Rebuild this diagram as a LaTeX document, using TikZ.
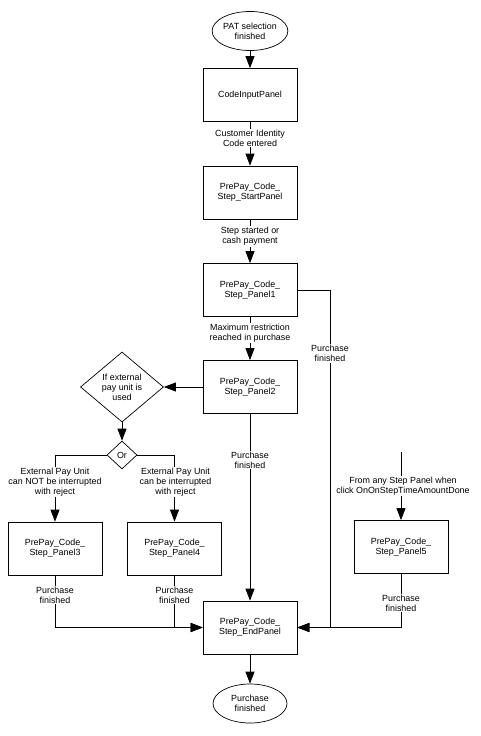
\documentclass[tikz,border=0pt]{standalone}
\usepackage{fontspec}
\setmainfont{Liberation Sans}
\usetikzlibrary{shapes.geometric,arrows.meta}
\begin{document}
\begin{tikzpicture}[x=1pt,y=-1pt,
  font=\fontsize{8.9}{10}\selectfont,
  box/.style={draw, rectangle, minimum width=94pt, minimum height=53pt, inner sep=0pt, align=center, line width=0.7pt},
  term/.style={draw, ellipse, minimum width=74pt, minimum height=39pt, inner sep=0pt, align=center, line width=0.7pt},
  decision/.style={draw, diamond, inner sep=0pt, line width=0.7pt},
  lbl/.style={fill=white, align=center, inner sep=1pt},
  conn/.style={line width=0.7pt},
  arr/.style={conn, -{Triangle[length=12pt,width=9pt]}}]
\useasboundingbox (0,0) rectangle (481,736);
% nodes
\node[term] (start) at (250,31) {PAT selection\\finished};
\node[box] (cip) at (250,95) {CodeInputPanel};
\node[box] (sp) at (250,192.5) {PrePay\_Code\_\\Step\_StartPanel};
\node[box] (p1) at (250,290) {PrePay\_Code\_\\Step\_Panel1};
\node[box] (p2) at (250,387) {PrePay\_Code\_\\Step\_Panel2};
\node[decision, minimum width=83pt, minimum height=70pt] (dia) at (122,387) {};
\node[align=center] (diat) at (dia) {If external\\pay unit is\\used};
\node[decision, minimum width=30pt, minimum height=28pt] (or) at (122,455) {};
\node (ort) at (or) {Or};
\node[box] (p3) at (55,548.5) {PrePay\_Code\_\\Step\_Panel3};
\node[box] (p4) at (174.5,548.5) {PrePay\_Code\_\\Step\_Panel4};
\node[box] (p5) at (401,547) {PrePay\_Code\_\\Step\_Panel5};
\node[box] (endp) at (250,627.5) {PrePay\_Code\_\\Step\_EndPanel};
\node[term] (fin) at (250,703.5) {Purchase\\finished};
\coordinate (c1) at (330,290);
\coordinate (c5) at (401,452);
% connectors
\draw[arr] (start) -- (cip);
\draw[arr] (cip) -- (sp);
\draw[arr] (sp) -- (p1);
\draw[arr] (p1) -- (p2);
\draw[arr] (p2.west) -- (dia.east);
\draw[arr] (dia.south) -- (or.north);
\draw[arr] (or.west) -| (p3.north);
\draw[arr] (or.east) -| (p4.north);
\draw[arr] (p2) -- (endp);
\draw[arr] (p1.east) -- (c1) |- (endp.east);
\draw[arr] (p5.south) |- (endp.east);
\draw[arr] (c5) -- (p5.north);
\draw[arr] (p3.south) |- (endp.west);
\draw[arr] (p4.south) |- (endp.west);
\draw[arr] (endp) -- (fin);
% labels
\node[lbl] (l1) at (250,138) {Customer Identity\\Code entered};
\node[lbl] (l2) at (250,236.5) {Step started or\\cash payment};
\node[lbl] (l3) at (250,333) {Maximum restriction\\reached in purchase};
\node[lbl] (l4) at (330,353.5) {Purchase\\finished};
\node[lbl] (l5) at (250,460) {Purchase\\finished};
\node[lbl] (l6) at (55,482) {External Pay Unit\\can NOT be interrupted\\with reject};
\node[lbl] (l7) at (175.5,482) {External Pay Unit\\can be interrupted\\with reject};
\node[lbl] (l8) at (403,486) {From any  Step Panel when\\click OnOnStepTimeAmountDone};
\node[lbl] (l9) at (55,595) {Purchase\\finished};
\node[lbl] (l10) at (174.5,595) {Purchase\\finished};
\node[lbl] (l11) at (401,603) {Purchase\\finished};
\end{tikzpicture}
\end{document}
